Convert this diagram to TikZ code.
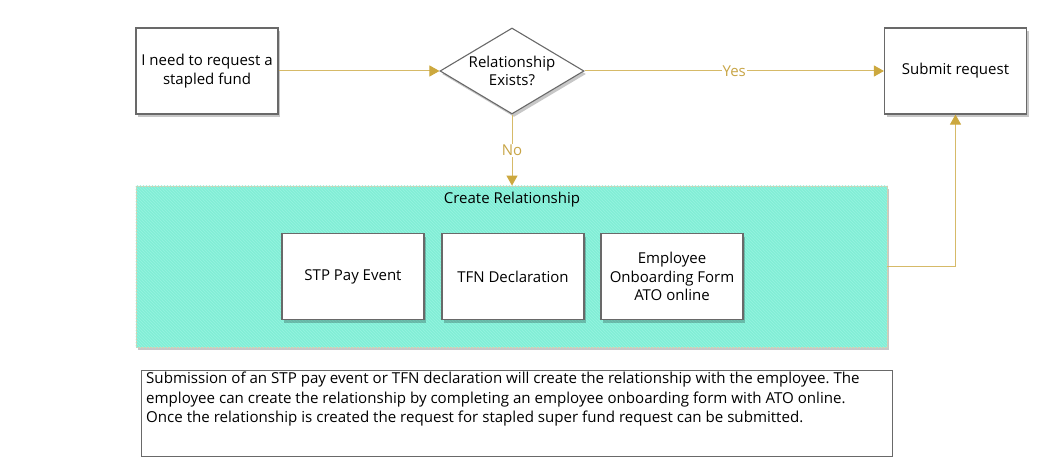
\documentclass[tikz,border=0pt]{standalone}
\usepackage{fontspec}
\setmainfont{Open Sans}
\frenchspacing
\usetikzlibrary{shapes.geometric,arrows.meta,shadows,patterns}
\definecolor{gold}{RGB}{214,186,104}
\definecolor{goldtip}{RGB}{204,168,62}
\definecolor{goldtxt}{RGB}{200,165,70}
\definecolor{mint}{RGB}{130,238,214}
\definecolor{minthatch}{RGB}{150,244,224}
\definecolor{edge}{RGB}{105,105,105}
\definecolor{grpedge}{RGB}{215,205,175}
\tikzset{
  mainfont/.style={font=\fontsize{15}{18.8}\selectfont},
  shad/.style={drop shadow={shadow xshift=2pt, shadow yshift=-3pt, opacity=0.22, fill=black}},
  box/.style={draw=edge, line width=1.1pt, fill=white, minimum width=142, minimum height=86,
    align=center, mainfont, inner sep=2pt, shad},
  dia/.style={diamond, draw=edge, line width=1.1pt, fill=white, minimum width=144,
    minimum height=86, inner sep=0pt, shad},
  grpbox/.style={draw=grpedge, line width=0.8pt, fill=mint, minimum width=751,
    minimum height=161, shad},
  conn/.style={draw=gold, line width=1pt, -{Triangle[length=10pt,width=11pt,fill=goldtip,color=goldtip]}},
  lbl/.style={fill=white, text=goldtxt, inner sep=1pt, mainfont},
  note/.style={draw=edge, line width=1pt, minimum width=751, minimum height=86}
}
\begin{document}
\begin{tikzpicture}[x=1pt,y=-1pt]
\useasboundingbox (0,0) rectangle (1039,468);
% nodes
\node[box] (start) at (207,71) {I need to request a\\stapled fund};
\node[dia] (dec) at (512,71) {};
\node[mainfont, align=center] (dect) at (dec.center) {Relationship\\Exists?};
\node[box] (sub) at (955.5,71) {Submit request};
\node[grpbox] (grp) at (511.5,266.5) {};
\fill[pattern=north west lines, pattern color=minthatch] (grp.south west) rectangle (grp.north east);
\node[mainfont] (grpt) at (512,200) {Create Relationship};
\node[box] (stp) at (353,276.5) {STP Pay Event};
\node[box] (tfn) at (513,276.5) {TFN Declaration};
\node[box] (emp) at (672,276.5) {Employee\\Onboarding Form\\ATO online};
\node[note] (nb) at (516.5,413) {};
\node[anchor=north west, align=left, inner sep=0pt, font=\fontsize{15.1}{19.3}\selectfont] (nt) at (146,372)
 {Submission of an STP pay event or TFN declaration will create the relationship with the employee. The\\
  employee can create the relationship by completing an employee onboarding form with ATO online.\\
  Once the relationship is created the request for stapled super fund request can be submitted.};
% connectors
\draw[conn] (start) -- (dec);
\draw[conn] (dec) -- node[lbl] (yes) {Yes} (sub);
\draw[conn] (dec.south) -- node[lbl] (no) {No} (dec.south |- grp.north);
\draw[conn] (grp.east) -| (sub.south);
\end{tikzpicture}
\end{document}
